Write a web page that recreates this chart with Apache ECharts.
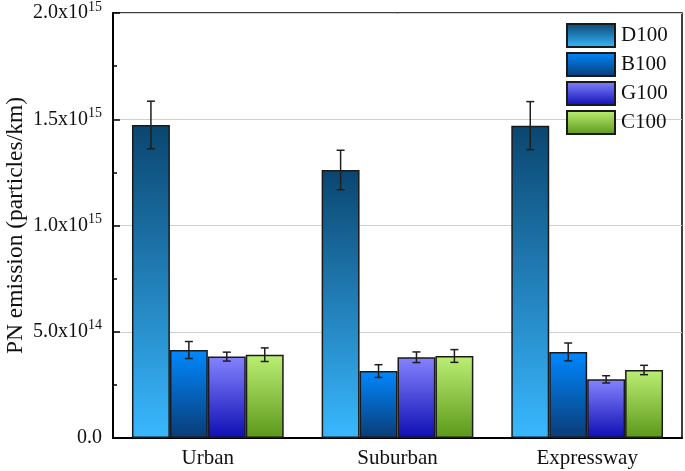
<!DOCTYPE html>
<html>
<head>
<meta charset="utf-8">
<script src="https://cdn.jsdelivr.net/npm/echarts@6/dist/echarts.min.js"></script>
<style>html,body{margin:0;padding:0;background:#fff;}#c{width:685px;height:471px;}</style>
</head>
<body>
<div id="c"></div>
<script>
const categories = ['Urban', 'Suburban', 'Expressway'];
const seriesNames = ['D100', 'B100', 'G100', 'C100'];
const D100 = [1.473e15, 1.261e15, 1.470e15];
const B100 = [0.414e15, 0.315e15, 0.405e15];
const G100 = [0.383e15, 0.380e15, 0.276e15];
const C100 = [0.392e15, 0.386e15, 0.320e15];
const D100err = [0.112e15, 0.093e15, 0.113e15];
const B100err = [0.040e15, 0.030e15, 0.042e15];
const G100err = [0.021e15, 0.025e15, 0.017e15];
const C100err = [0.032e15, 0.030e15, 0.022e15];
const yTicks = [0, 5e14, 1e15, 1.5e15, 2e15];

const values = [D100, B100, G100, C100];
const errs = [D100err, B100err, G100err, C100err];
const gradients = [
  ['#0a4670', '#39b8ff'],
  ['#0088ff', '#0a3c76'],
  ['#8484ff', '#0e0eb4'],
  ['#bcef74', '#5c981a']
];
const FONT = '"Liberation Serif", "Times New Roman", serif';

function grad(c) {
  return new echarts.graphic.LinearGradient(0, 0, 0, 1, [
    {offset: 0, color: c[0]}, {offset: 1, color: c[1]}
  ]);
}

function fmt(v) {
  if (v === 0) return '{a|0.0}';
  const e = Math.floor(Math.log10(v) + 1e-9);
  const m = (v / Math.pow(10, e)).toFixed(1);
  return '{a|' + m + 'x10}{s|' + e + '}';
}

const series = [];
values.forEach((vals, i) => {
  series.push({
    name: seriesNames[i],
    type: 'bar',
    data: vals,
    barGap: '0%',
    barCategoryGap: '20%',
    itemStyle: {color: grad(gradients[i]), borderColor: '#1a1a1a', borderWidth: 1.5},
    z: 2
  });
});
values.forEach((vals, i) => {
  series.push({
    name: 'err' + i,
    type: 'custom',
    z: 5,
    data: vals.map((v, k) => [k, v - errs[i][k], v + errs[i][k]]),
    encode: {x: 0, y: [1, 2]},
    renderItem: function (params, api) {
      const k = api.value(0);
      const lo = api.coord([k, api.value(1)]);
      const hi = api.coord([k, api.value(2)]);
      const band = api.size([1, 0])[0];
      const x = lo[0] + band * 0.2 * (i - 1.5);
      const hw = 4;
      const st = {stroke: '#1e1e1e', lineWidth: 1.5, fill: null};
      return {
        type: 'group',
        children: [
          {type: 'line', shape: {x1: x, y1: lo[1], x2: x, y2: hi[1]}, style: st},
          {type: 'line', shape: {x1: x - hw, y1: lo[1], x2: x + hw, y2: lo[1]}, style: st},
          {type: 'line', shape: {x1: x - hw, y1: hi[1], x2: x + hw, y2: hi[1]}, style: st}
        ]
      };
    }
  });
});

const chart = echarts.init(document.getElementById('c'), null, {renderer: 'canvas'});
chart.setOption({
  animation: false,
  backgroundColor: '#fff',
  grid: {left: 113, right: 3, top: 13, bottom: 33, show: true, borderColor: '#000', borderWidth: 1.5, backgroundColor: 'transparent', containLabel: false, outerBoundsMode: 'none'},
  legend: {
    data: seriesNames,
    orient: 'vertical',
    icon: 'rect',
    left: 561,
    top: 18,
    itemWidth: 48,
    itemHeight: 23,
    itemGap: 4,
    textStyle: {fontFamily: FONT, fontSize: 21, color: '#111', padding: [0, 0, 0, 1]}
  },
  xAxis: [{
    type: 'category',
    data: categories,
    axisLine: {lineStyle: {color: '#000', width: 2}},
    axisTick: {inside: true, length: 5, lineStyle: {color: '#000', width: 1.5}},
    axisLabel: {fontFamily: FONT, fontSize: 21, color: '#111', margin: 10}
  }, {
    type: 'category',
    data: categories,
    position: 'bottom',
    axisLine: {show: false},
    axisTick: {inside: true, alignWithLabel: true, length: 5, lineStyle: {color: '#000', width: 1.5}},
    axisLabel: {show: false}
  }],
  yAxis: {
    type: 'value',
    min: 0,
    max: 2e15,
    interval: 5e14,
    name: 'PN emission (particles/km)',
    nameLocation: 'middle',
    nameGap: 85,
    nameMoveOverlap: false,
    nameTextStyle: {fontFamily: FONT, fontSize: 23.5, color: '#111'},
    axisLine: {show: true, lineStyle: {color: '#000', width: 2}},
    axisTick: {show: true, inside: true, length: 7, lineStyle: {color: '#000', width: 1.5}},
    minorTick: {show: true, splitNumber: 2, length: 4, lineStyle: {color: '#000', width: 1.5}},
    splitLine: {show: true, lineStyle: {color: '#cfcfcf', width: 1}},
    axisLabel: {
      formatter: function (v) { return yTicks.indexOf(v) >= 0 ? fmt(v) : ''; },
      margin: 11,
      fontFamily: FONT,
      fontSize: 20,
      color: '#111',
      rich: {
        a: {fontFamily: FONT, fontSize: 20, color: '#111'},
        s: {fontFamily: FONT, fontSize: 14, color: '#111', padding: [0, 0, 12, 0]}
      }
    }
  },
  series: series
});
</script>
</body>
</html>
